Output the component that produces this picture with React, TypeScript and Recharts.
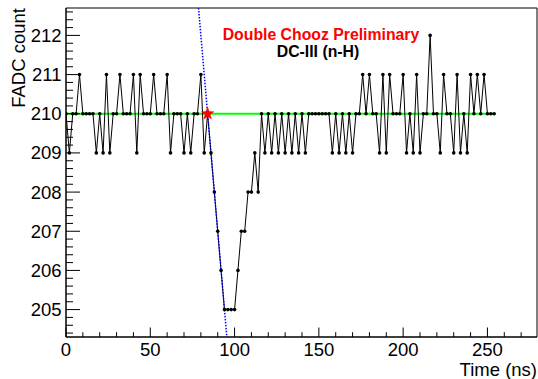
import React from 'react';
import { ComposedChart, Line, XAxis, YAxis, ReferenceLine, ReferenceArea, ReferenceDot } from 'recharts';

// ---- data ----
const SAMPLE_PERIOD_NS = 2;
const adcCounts = [
  210, 209, 210, 210, 211, 210, 210, 210, 210, 209,
  210, 209, 211, 209, 210, 210, 211, 210, 210, 210,
  211, 209, 211, 210, 210, 210, 211, 210, 210, 210,
  211, 209, 210, 210, 210, 209, 210, 209, 210, 210,
  211, 209, 210, 209, 208, 207, 206, 205, 205, 205,
  205, 206, 207, 207, 208, 208, 209, 208, 210, 209,
  210, 209, 210, 209, 210, 209, 210, 209, 210, 209,
  210, 209, 210, 210, 210, 210, 210, 210, 210, 209,
  210, 209, 210, 209, 210, 209, 210, 210, 211, 210,
  211, 210, 210, 209, 211, 209, 211, 210, 210, 210,
  211, 209, 210, 209, 211, 209, 210, 210, 212, 210,
  210, 209, 211, 210, 210, 209, 211, 209, 210, 209,
  211, 210, 211, 210, 211, 210, 210, 210,
];
const pedestal = 210;
const pedestalRange = [0, 254];
const fitStart = { x: 78.6, y: 212.7 };
const fitEnd = { x: 95.4, y: 204.3 };
const starPoint = { x: 84, y: 210 };

const xDomain = [0, 279.4];
const yDomain = [204.3, 212.7];
const xMajorLabels = [0, 50, 100, 150, 200, 250];
const yMajorLabels = [205, 206, 207, 208, 209, 210, 211, 212];
const xMinorStep = 10;
const yMinorStep = 0.2;

const titleText = 'Double Chooz Preliminary';
const subtitleText = 'DC-III (n-H)';
const xTitle = 'Time (ns)';
const yTitle = 'FADC count';

// ---- derived ----
const data = adcCounts.map((v, i) => ({ t: i * SAMPLE_PERIOD_NS, adc: v }));

const xTicks: number[] = [];
for (let v = xDomain[0]; v <= xDomain[1] + 1e-9; v += xMinorStep) xTicks.push(Math.round(v * 10) / 10);
const yTicks: number[] = [];
for (let k = Math.ceil(yDomain[0] / yMinorStep - 1e-6); k * yMinorStep <= yDomain[1] + 1e-9; k++) yTicks.push(Math.round(k * yMinorStep * 10) / 10);

const isMajor = (v: number, labels: number[]) => labels.some((m) => Math.abs(m - v) < 1e-6);

const FONT = '"Liberation Sans", Arial, Helvetica, sans-serif';

const XTick = (props: any) => {
  const { x, y, payload } = props;
  const v = payload.value;
  const major = isMajor(v, xMajorLabels);
  const len = major ? 9.5 : 4.8;
  return (
    <g>
      <line x1={x} y1={y} x2={x} y2={y - len} stroke="#000" strokeWidth={1} />
      {major && (
        <text x={x} y={y + 19} textAnchor="middle" fontFamily={FONT} fontSize={18.5} fill="#000">
          {v}
        </text>
      )}
    </g>
  );
};

const YTick = (props: any) => {
  const { x, y, payload } = props;
  const v = payload.value;
  const major = isMajor(v, yMajorLabels);
  const len = major ? 14 : 7;
  return (
    <g>
      <line x1={x} y1={y} x2={x + len} y2={y} stroke="#000" strokeWidth={1} />
      {major && (
        <text x={x - 4.5} y={y + 6.5} textAnchor="end" fontFamily={FONT} fontSize={18.5} fill="#000">
          {v}
        </text>
      )}
    </g>
  );
};

const Star = (props: any) => {
  const { cx, cy } = props;
  const R = 6.5;
  const r = 2.7;
  const pts: string[] = [];
  for (let k = 0; k < 10; k++) {
    const a = -Math.PI / 2 + (k * Math.PI) / 5;
    const rad = k % 2 === 0 ? R : r;
    pts.push(`${cx + rad * Math.cos(a)},${cy + rad * Math.sin(a)}`);
  }
  return <polygon points={pts.join(' ')} fill="#ff0000" stroke="#ff0000" strokeWidth={0.5} />;
};

export default function App() {
  return (
    <div style={{ position: 'absolute', left: 0, top: 0, width: 538, height: 379, background: '#fff' }}>
      <ComposedChart
        width={538}
        height={379}
        data={data}
        margin={{ top: 8, right: 1, bottom: 0, left: 0 }}
      >
        <XAxis
          dataKey="t"
          type="number"
          domain={xDomain}
          ticks={xTicks}
          interval={0}
          allowDataOverflow
          height={42}
          tickSize={0}
          tickMargin={0}
          tickLine={false}
          axisLine={{ stroke: '#000', strokeWidth: 1 }}
          tick={(p: any) => <XTick {...p} />}
        />
        <YAxis
          type="number"
          domain={yDomain}
          ticks={yTicks}
          interval={0}
          allowDataOverflow
          width={66}
          tickSize={0}
          tickMargin={0}
          tickLine={false}
          axisLine={{ stroke: '#000', strokeWidth: 1 }}
          tick={(p: any) => <YTick {...p} />}
        />
        <ReferenceArea
          x1={xDomain[0]}
          x2={xDomain[1]}
          y1={yDomain[0]}
          y2={yDomain[1]}
          fill="none"
          fillOpacity={0}
          stroke="#000"
          strokeWidth={1}
          ifOverflow="visible"
        />
        <ReferenceLine
          segment={[
            { x: pedestalRange[0], y: pedestal },
            { x: pedestalRange[1], y: pedestal },
          ]}
          stroke="#00ff00"
          strokeWidth={2}
          ifOverflow="visible"
        />
        <Line
          dataKey="adc"
          type="linear"
          stroke="#000"
          strokeWidth={1}
          dot={{ r: 1.8, fill: '#000', stroke: 'none' }}
          activeDot={false}
          isAnimationActive={false}
        />
        <ReferenceLine
          segment={[fitStart, fitEnd]}
          stroke="#0000ff"
          strokeWidth={1.5}
          strokeDasharray="1.5 1.5"
          ifOverflow="visible"
        />
        <ReferenceDot x={starPoint.x} y={starPoint.y} r={6} shape={(p: any) => <Star {...p} />} ifOverflow="visible" />
      </ComposedChart>
      <svg
        width={538}
        height={379}
        style={{ position: 'absolute', left: 0, top: 0, pointerEvents: 'none' }}
      >
        <text x={321} y={39.5} textAnchor="middle" fontFamily={FONT} fontWeight="bold" fontSize={15.8} fill="#ff0000">
          {titleText}
        </text>
        <text x={318} y={57} textAnchor="middle" fontFamily={FONT} fontWeight="bold" fontSize={15.8} fill="#000">
          {subtitleText}
        </text>
        <text x={537} y={376} textAnchor="end" fontFamily={FONT} fontSize={18.5} fill="#000">
          {xTitle}
        </text>
        <text
          x={25}
          y={8}
          textAnchor="end"
          fontFamily={FONT}
          fontSize={18.5}
          fill="#000"
          transform="rotate(-90 25 8)"
        >
          {yTitle}
        </text>
      </svg>
    </div>
  );
}
